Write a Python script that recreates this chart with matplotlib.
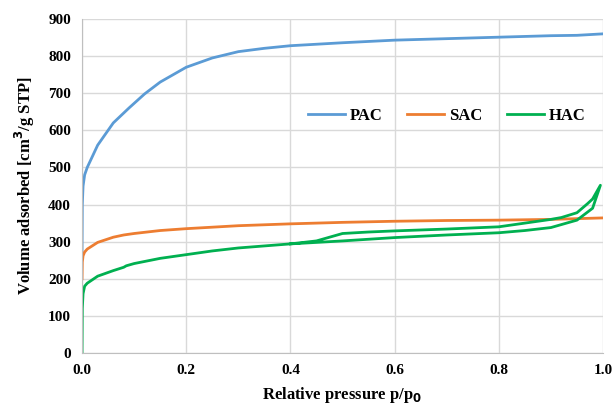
import matplotlib
matplotlib.use("Agg")
import matplotlib.pyplot as plt

# isotherm data
pac_p = [0.0, 0.0005, 0.002, 0.005, 0.01, 0.02, 0.03, 0.045, 0.06, 0.09, 0.12, 0.15, 0.2, 0.25,
         0.3, 0.35, 0.4, 0.5, 0.6, 0.7, 0.8, 0.85, 0.9, 0.95, 1.0]
pac_v = [275, 400, 450, 480, 500, 530, 560, 590, 620, 660, 698, 730, 770, 795,
         812, 821, 828, 836, 843, 847, 851, 853, 855, 856, 860]

sac_p = [0.0, 0.0005, 0.002, 0.005, 0.01, 0.03, 0.06, 0.08, 0.1, 0.15, 0.2, 0.3, 0.4,
         0.5, 0.6, 0.7, 0.8, 0.9, 1.0]
sac_v = [200, 245, 262, 272, 280, 298, 312, 318, 322, 330, 335, 343, 348,
         352, 355, 357, 358, 360, 364]

hac_p = [0.0, 0.0005, 0.002, 0.005, 0.01, 0.03, 0.06, 0.08, 0.085, 0.1, 0.15, 0.2, 0.25,
         0.3, 0.4, 0.5, 0.6, 0.7, 0.8, 0.85, 0.9, 0.95, 0.98, 0.995,
         0.98, 0.97, 0.95, 0.92, 0.9, 0.85, 0.8, 0.7, 0.6, 0.55, 0.5, 0.47, 0.45, 0.4]
hac_v = [0, 120, 160, 180, 188, 207, 222, 231, 235, 241, 255, 265, 275,
         283, 294, 302, 311, 318, 324, 330, 338, 358, 390, 452,
         415, 402, 378, 365, 360, 350, 340, 334, 329, 326, 322, 310, 302, 294]

plt.rcParams['font.family'] = ['Liberation Serif', 'DejaVu Serif']
plt.rcParams['font.weight'] = 'bold'

fig = plt.figure(figsize=(6.14, 4.13), dpi=100)
ax = fig.add_axes([0.1336, 0.1453, 0.8485, 0.8087])

ax.plot(pac_p, pac_v, color='#5b9bd5', lw=2, label='PAC')
ax.plot(sac_p, sac_v, color='#ed7d31', lw=2, label='SAC')
ax.plot(hac_p, hac_v, color='#00b050', lw=2, label='HAC')

ax.set_xlim(0, 1.0)
ax.set_ylim(0, 900)
ax.set_xticks([0.0, 0.2, 0.4, 0.6, 0.8, 1.0])
ax.set_xticklabels(['0.0', '0.2', '0.4', '0.6', '0.8', '1.0'])
ax.set_yticks(range(0, 1000, 100))
ax.grid(True, color='#d9d9d9', lw=1)
ax.set_axisbelow(True)
for s in ['top', 'right']:
    ax.spines[s].set_visible(False)
ax.spines['left'].set_color('#bfbfbf')
ax.spines['bottom'].set_color('#bfbfbf')
ax.tick_params(length=0, labelsize=11, pad=8)

ax.set_xlabel('Relative pressure p/p$_0$', fontsize=12, fontweight='bold', labelpad=6)
ax.set_ylabel('Volume adsorbed [cm$^3$/g STP]', fontsize=12, fontweight='bold', labelpad=8)

ax.legend(loc='center', bbox_to_anchor=(0.7, 0.71), ncol=3, frameon=False, fontsize=12,
          handlelength=2.2, columnspacing=1.5, handletextpad=0.3)

fig.savefig('out.png', dpi=100)
